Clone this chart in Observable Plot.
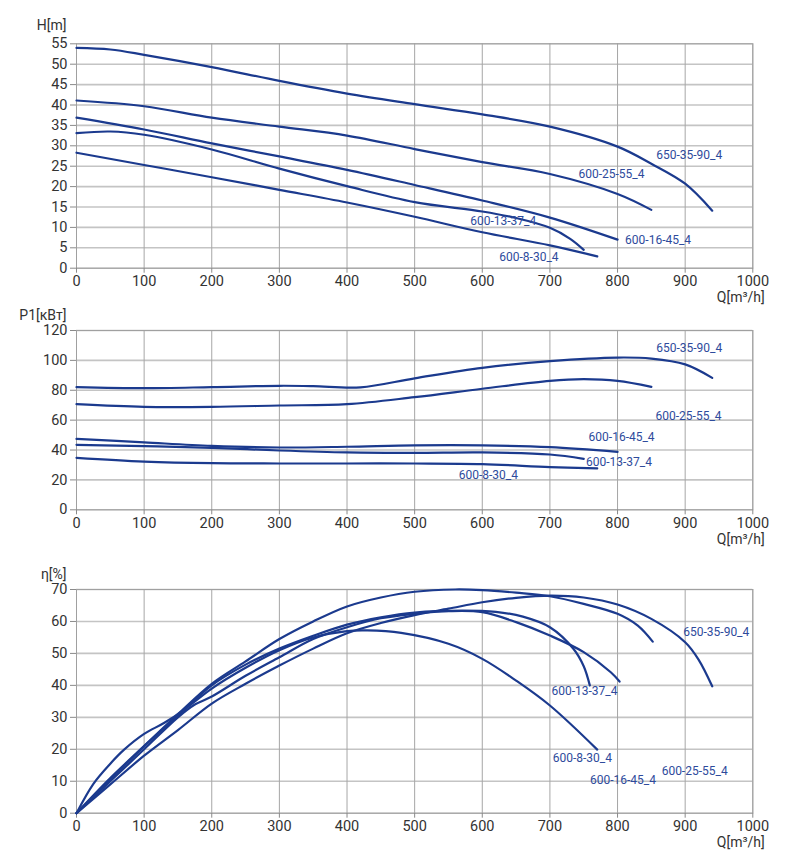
<!DOCTYPE html>
<html>
<head>
<meta charset="utf-8">
<script src="https://cdn.jsdelivr.net/npm/d3@7"></script>
<script src="https://cdn.jsdelivr.net/npm/@observablehq/plot@0.6"></script>
<style>
  html, body { margin: 0; padding: 0; background: #fff; }
  #charts svg { display: block; }
</style>
</head>
<body>
<div id="charts"></div>
<script>
// ---- Series names ----
const names = ["650-35-90_4", "600-25-55_4", "600-16-45_4", "600-13-37_4", "600-8-30_4"];

// ---- Ticks ----
const qTicks = [0, 100, 200, 300, 400, 500, 600, 700, 800, 900, 1000];
const hTicks = [0, 5, 10, 15, 20, 25, 30, 35, 40, 45, 50, 55];
const pTicks = [0, 20, 40, 60, 80, 100, 120];
const etaTicks = [0, 10, 20, 30, 40, 50, 60, 70];

// ---- Head H[m] ----
const hQ_650 = [0, 50, 100, 200, 300, 400, 500, 600, 700, 800, 850, 900, 940];
const hV_650 = [54, 53.6, 52.3, 49.3, 45.9, 42.8, 40.2, 37.7, 34.7, 29.8, 25.6, 20.7, 14.1];
const hQ_25 = [0, 100, 200, 300, 400, 500, 600, 700, 800, 850];
const hV_25 = [41.1, 39.7, 36.9, 34.7, 32.5, 29.2, 26.0, 23.1, 18.2, 14.3];
const hQ_16 = [0, 100, 200, 300, 400, 500, 600, 700, 800];
const hV_16 = [36.9, 34.0, 30.6, 27.4, 24.1, 20.4, 16.6, 12.4, 7.0];
const hQ_13 = [0, 50, 100, 200, 300, 400, 500, 600, 650, 700, 730, 750];
const hV_13 = [33.1, 33.5, 32.7, 29.1, 24.4, 20.1, 16.2, 13.9, 12.3, 9.9, 7.2, 4.5];
const hQ_8 = [0, 100, 200, 300, 400, 500, 600, 700, 770];
const hV_8 = [28.3, 25.3, 22.3, 19.2, 16.1, 12.6, 8.8, 5.6, 2.9];

// ---- Power P1[kW] ----
const pQ_650 = [0, 100, 200, 300, 350, 420, 500, 600, 700, 800, 850, 900, 940];
const pV_650 = [82.1, 81.4, 82.1, 83, 82.8, 82, 88, 95, 99.5, 101.9, 101.2, 97.3, 88.3];
const pQ_25 = [0, 100, 200, 300, 400, 500, 600, 700, 750, 800, 850];
const pV_25 = [70.7, 68.9, 68.9, 69.8, 70.7, 75.4, 81, 86.3, 87.4, 86.3, 82.3];
const pQ_16 = [0, 100, 200, 300, 400, 500, 600, 700, 800];
const pV_16 = [47.5, 45.1, 42.8, 41.7, 42.2, 43.1, 43.1, 41.9, 38.8];
const pQ_13 = [0, 100, 200, 300, 400, 500, 600, 700, 750];
const pV_13 = [43.5, 42.6, 41.5, 39.7, 38.4, 38.1, 38.4, 37, 34.1];
const pQ_8 = [0, 100, 200, 300, 400, 500, 600, 700, 770];
const pV_8 = [34.8, 32.3, 31.2, 31, 31, 31, 30.6, 28.6, 27.7];

// ---- Efficiency eta[%] ----
const eQ_650 = [0, 50, 100, 150, 200, 250, 300, 350, 400, 450, 500, 550, 600, 650, 700, 750, 800, 850, 900, 920, 940];
const eV_650 = [0, 9, 18, 26, 34.3, 40.5, 46.2, 51.5, 56.3, 59.5, 62, 64, 66, 67.4, 68.1, 67.5, 65.3, 60.8, 53.5, 48, 39.7];
const eQ_25 = [0, 50, 100, 150, 200, 250, 300, 350, 400, 450, 500, 560, 600, 650, 700, 750, 800, 830, 852];
const eV_25 = [0, 11, 21, 31, 40.5, 47.5, 54.5, 60, 64.7, 67.5, 69.3, 70, 69.8, 69, 67.9, 65.5, 62.4, 58.7, 53.7];
const eQ_16 = [0, 50, 100, 150, 175, 200, 250, 300, 350, 400, 450, 500, 550, 600, 650, 700, 750, 790, 803];
const eV_16 = [0, 10, 20, 30, 34, 36.5, 43, 48.8, 54.5, 58.2, 61, 62.4, 63.2, 62.9, 59.8, 55.6, 50.4, 44.1, 41.2];
const eQ_13 = [0, 50, 100, 150, 200, 250, 300, 350, 400, 450, 500, 570, 620, 660, 700, 735, 750, 759];
const eV_13 = [0, 10.5, 21, 30.5, 40, 46.5, 51.5, 55.5, 59, 61.3, 62.8, 63.4, 63, 61.5, 58.2, 51.4, 46, 40];
const eQ_8 = [0, 25, 50, 70, 100, 130, 160, 200, 250, 300, 350, 400, 430, 480, 550, 600, 650, 700, 770];
const eV_8 = [0, 9.2, 15.5, 19.8, 24.8, 28.3, 32.5, 39, 45.5, 51, 55, 57, 57.2, 56.4, 53, 48.3, 41.5, 33.7, 19.9];

// ---- Curve label anchors (data coordinates) ----
const hLabQ = [906, 791, 860, 631, 669];
const hLabV = [27.6, 23.0, 6.8, 11.5, 2.6];
const pLabQ = [906, 905, 806, 802, 609];
const pLabV = [108.2, 62.7, 48.6, 31.7, 23.0];
const eLabQ = [946, 914, 808, 751, 748];
const eLabV = [56.6, 13.1, 10.2, 38.1, 17.3];

function rows(list) {
  const out = [];
  list.forEach(([name, qs, vs]) => qs.forEach((q, i) => out.push({name, q, v: vs[i]})));
  return out;
}
function labelRows(qs, vs) {
  return names.map((name, i) => ({name, q: qs[i], v: vs[i]}));
}

const headData = rows([[names[0], hQ_650, hV_650], [names[1], hQ_25, hV_25], [names[2], hQ_16, hV_16], [names[3], hQ_13, hV_13], [names[4], hQ_8, hV_8]]);
const powerData = rows([[names[0], pQ_650, pV_650], [names[1], pQ_25, pV_25], [names[2], pQ_16, pV_16], [names[3], pQ_13, pV_13], [names[4], pQ_8, pV_8]]);
const etaData = rows([[names[0], eQ_650, eV_650], [names[1], eQ_25, eV_25], [names[2], eQ_16, eV_16], [names[3], eQ_13, eV_13], [names[4], eQ_8, eV_8]]);

const LINE = "#1b3a8e";
const LABEL = "#2e4b9c";
const fmt = d => String(d);

function chart({data, labels, yDomain, yTicks, yLabel, labelDy, height, marginTop, marginBottom}) {
  return Plot.plot({
    width: 787,
    height,
    marginLeft: 76,
    marginRight: 34.7,
    marginTop,
    marginBottom,
    style: {fontFamily: "Roboto, sans-serif", fontSize: "14.5px", color: "#333", background: "#fff"},
    x: {domain: [0, 1000], ticks: qTicks, label: null},
    y: {domain: yDomain, ticks: yTicks, label: null},
    marks: [
      Plot.gridY(yTicks, {stroke: "#c4c4c4", strokeOpacity: 1, strokeWidth: 1.6}),
      Plot.gridX(qTicks, {stroke: "#a6a6a6", strokeOpacity: 1, strokeWidth: 1}),
      Plot.frame({stroke: "#a0a0a0", strokeWidth: 1}),
      Plot.axisX(qTicks, {tickSize: 5, tickPadding: 3, tickFormat: fmt, stroke: "#8a8a8a", fill: "#333", fontSize: 14.5, label: null}),
      Plot.axisY(yTicks, {tickSize: 6, tickPadding: 3, tickFormat: fmt, stroke: "#8a8a8a", fill: "#333", fontSize: 14.5, label: null}),
      Plot.line(data, {x: "q", y: "v", z: "name", stroke: LINE, strokeWidth: 2.2, curve: "catmull-rom"}),
      Plot.text(labels, {x: "q", y: "v", text: "name", fill: LABEL, fontSize: 12, textAnchor: "middle"}),
      Plot.text([yLabel], {frameAnchor: "top-left", dx: -10, dy: labelDy, textAnchor: "end", fill: "#333", fontSize: 14}),
      Plot.text(["Q[m³/h]"], {frameAnchor: "bottom-right", dx: 12, dy: 34, textAnchor: "end", fill: "#333", fontSize: 14})
    ]
  });
}

const root = document.getElementById("charts");
root.append(chart({
  data: headData, labels: labelRows(hLabQ, hLabV),
  yDomain: [0, 55], yTicks: hTicks, yLabel: "H[m]", labelDy: -24,
  height: 305, marginTop: 43.3, marginBottom: 37.3
}));
root.append(chart({
  data: powerData, labels: labelRows(pLabQ, pLabV),
  yDomain: [0, 120], yTicks: pTicks, yLabel: "P1[кВт]", labelDy: -20,
  height: 250, marginTop: 25, marginBottom: 45.7
}));
root.append(chart({
  data: etaData, labels: labelRows(eLabQ, eLabV),
  yDomain: [0, 70], yTicks: etaTicks, yLabel: "η[%]", labelDy: -20,
  height: 309, marginTop: 34, marginBottom: 51.3
}));
</script>
</body>
</html>
